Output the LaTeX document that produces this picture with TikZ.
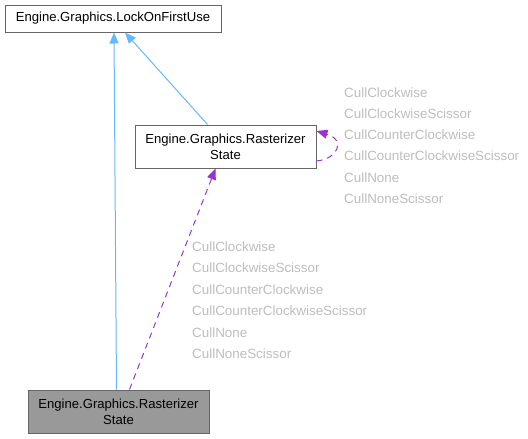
\documentclass[tikz,border=0pt]{standalone}
\usepackage{fontspec}
\setmainfont{Liberation Sans}
\usetikzlibrary{arrows.meta}

\definecolor{inhblue}{HTML}{63B8FF}
\definecolor{usepurple}{HTML}{9A32CD}
\definecolor{lblgray}{HTML}{BDBDBD}
\definecolor{boxline}{HTML}{666666}

\begin{document}
\begin{tikzpicture}[x=1pt, y=-1pt,
  cls/.style={shape=rectangle, draw=boxline, line width=1pt, fill=white, align=center,
    font=\fontsize{13.1}{16}\selectfont, inner sep=0pt},
  inh/.style={draw=inhblue, line width=1pt, -{Triangle[length=11pt,width=9pt]}},
  use/.style={draw=usepurple, line width=1pt, dash pattern=on 6pt off 5pt,
    -{Triangle[length=11pt,width=9pt]}},
  lbl/.style={anchor=west, inner sep=0pt, text=lblgray, font=\fontsize{13.4}{14}\selectfont}]
\useasboundingbox (0,0) rectangle (528,439);
\node[cls, minimum width=216pt, minimum height=27pt] (lock) at (113,18.5) {Engine.Graphics.LockOnFirstUse};
\node[cls, minimum width=181pt, minimum height=43pt] (rast) at (225.5,146.5) {Engine.Graphics.Rasterizer\\State};
\node[cls, fill=black!40, minimum width=181pt, minimum height=43pt] (state) at (118.5,411.5) {Engine.Graphics.Rasterizer\\State};
\draw[inh] ([xshift=-2pt]state.north) -- ([xshift=1pt]lock.south);
\draw[inh] ([xshift=-18pt]rast.north) -- ([xshift=12pt]lock.south);
\draw[use] ([xshift=11pt]state.north) -- ([xshift=-10pt]rast.south);
\draw[use] ([yshift=-14.5pt]rast.east) .. controls (338,159) and (346,140) .. ([yshift=15.5pt]rast.east);
\node[lbl] (r1) at (344,93) {CullClockwise};
\node[lbl] (r2) at (344,114) {CullClockwiseScissor};
\node[lbl] (r3) at (344,135) {CullCounterClockwise};
\node[lbl] (r4) at (344,156) {CullCounterClockwiseScissor};
\node[lbl] (r5) at (344,178) {CullNone};
\node[lbl] (r6) at (344,199) {CullNoneScissor};
\node[lbl] (b1) at (192,247) {CullClockwise};
\node[lbl] (b2) at (192,268) {CullClockwiseScissor};
\node[lbl] (b3) at (192,290) {CullCounterClockwise};
\node[lbl] (b4) at (192,311) {CullCounterClockwiseScissor};
\node[lbl] (b5) at (192,333) {CullNone};
\node[lbl] (b6) at (192,354) {CullNoneScissor};
\end{tikzpicture}
\end{document}
